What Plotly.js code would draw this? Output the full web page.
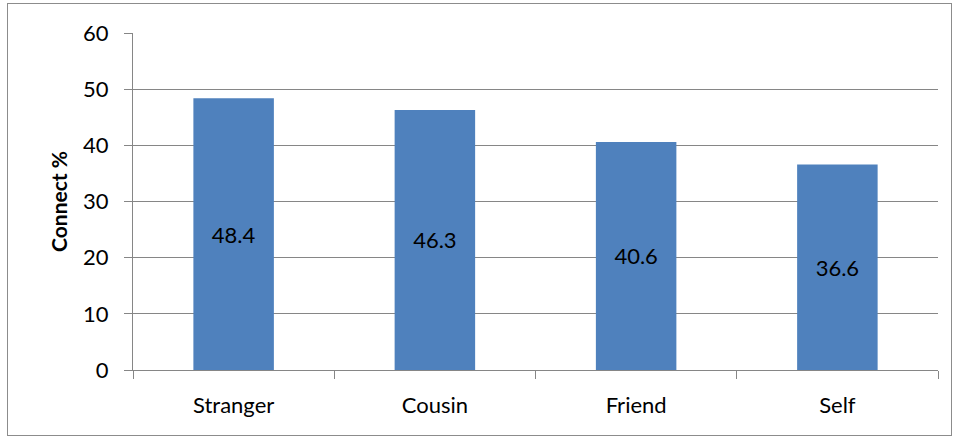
<!DOCTYPE html>
<html><head><meta charset="utf-8">
<script src="https://cdn.plot.ly/plotly-3.0.1.min.js"></script>
<style>html,body{margin:0;padding:0;background:#fff;}#wrap{position:relative;width:955px;height:437px;}
#frame{position:absolute;left:7px;top:3px;width:943px;height:431px;border:1px solid #8c8c8c;pointer-events:none;}</style>
</head><body><div id="wrap"><div id="chart" style="width:955px;height:437px;"></div><div id="frame"></div></div>
<script>
const categories = ["Stranger", "Cousin", "Friend", "Self"];
const connectPct = [48.4, 46.3, 40.6, 36.6];
const yTicks = [0, 10, 20, 30, 40, 50, 60];
const FONT = "Lato, 'Open Sans', sans-serif";
Plotly.newPlot("chart", [{
  type: "bar", x: categories, y: connectPct,
  text: connectPct.map(v => v.toFixed(1)), textposition: "inside", insidetextanchor: "middle",
  textfont: {family: FONT, size: 22, color: "#000"},
  marker: {color: "#4F81BD"}, width: 0.4, hoverinfo: "none"
}], {
  width: 955, height: 437,
  margin: {l: 133, r: 17, t: 33, b: 67},
  paper_bgcolor: "rgba(0,0,0,0)", plot_bgcolor: "#fff",
  showlegend: false, bargap: 0.6,
  font: {family: FONT, size: 22, color: "#000"},
  xaxis: {type: "category", tickson: "boundaries", ticks: "outside", ticklen: 8, tickcolor: "#868686",
    showline: true, linecolor: "#868686", linewidth: 1, showgrid: false, zeroline: false,
    ticklabelstandoff: 16,
    tickfont: {family: FONT, size: 22, color: "#000"}},
  yaxis: {range: [0, 60], tickvals: yTicks, ticks: "outside", ticklen: 8, tickcolor: "#868686",
    showline: true, linecolor: "#868686", gridcolor: "#868686", gridwidth: 1, zeroline: false,
    ticklabelstandoff: 11,
    tickfont: {family: FONT, size: 22, color: "#000"},
    title: {text: "<b>Connect %</b>", font: {family: FONT, size: 21, color: "#000"}, standoff: 9}}
}, {staticPlot: true});
</script></body></html>
